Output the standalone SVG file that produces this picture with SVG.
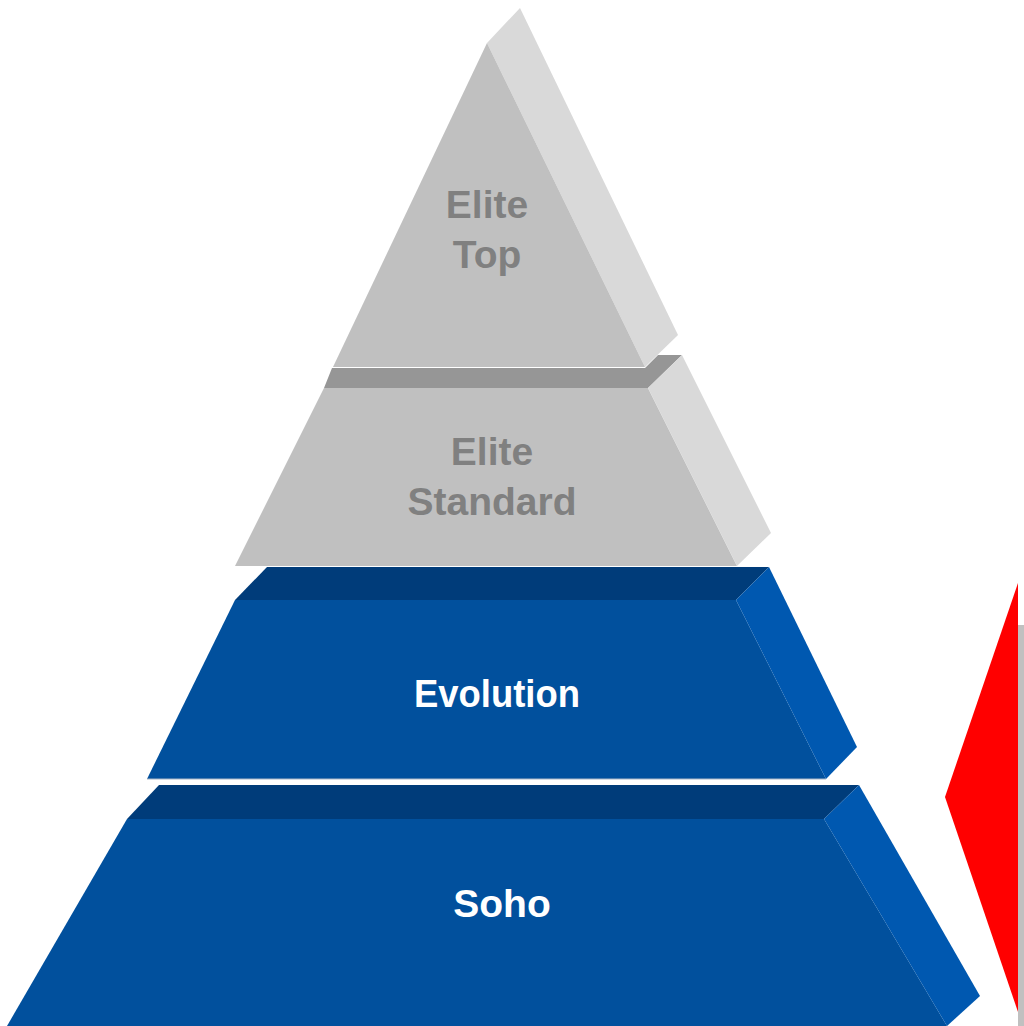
<svg xmlns="http://www.w3.org/2000/svg" width="1024" height="1026" viewBox="0 0 1024 1026">
<style>
.gf{fill:#c0c0c0}
.gs{fill:#d9d9d9}
.gt{fill:#969696}
.bf{fill:#01509d}
.bs{fill:#0058b0}
.bt{fill:#003c7a}
.edge{stroke:#a8b4c4;stroke-width:1}
.lg{font-family:"Liberation Sans",Arial,sans-serif;font-weight:bold;font-size:39px;fill:#808080;text-anchor:middle}
.lw{font-family:"Liberation Sans",Arial,sans-serif;font-weight:bold;font-size:39px;fill:#ffffff;text-anchor:middle}
</style>
<rect width="1024" height="1026" fill="#ffffff"/>
<g id="accent">
<rect x="1018" y="625" width="6" height="401" fill="#c0c0c0"/>
<polygon points="1018,583 945,797 1018,1012" fill="#ff0000"/>
</g>
<g id="soho">
<polygon class="bt" points="127,819 159,785 859,785 824,819"/>
<polygon class="bf" points="127,819 824,819 947,1026 7,1026"/>
<polygon class="bs" points="824,819 859,785 980,996 947,1026"/>
<text class="lw" x="502" y="917">Soho</text>
</g>
<g id="evolution">
<polygon class="bt" points="235,600 267,567 769,567 736,600"/>
<polygon class="bf" points="235,600 736,600 826,779 147,779"/>
<polygon class="bs" points="736,600 769,567 857,747 826,779"/>
<line class="edge" x1="147" y1="779" x2="826" y2="779"/>
<text class="lw" x="497" y="707" textLength="166" lengthAdjust="spacingAndGlyphs">Evolution</text>
</g>
<g id="elite-standard">
<polygon class="gt" points="324,388 332,368 645,368 658,355 682,355 648,388"/>
<polygon class="gf" points="324,388 648,388 737,566 235,566"/>
<polygon class="gs" points="648,388 682,355 771,533 737,566"/>
<text class="lg" x="492" y="465">Elite</text>
<text class="lg" x="492" y="515">Standard</text>
</g>
<g id="elite-top">
<polygon class="gs" points="487,43 520,8 678,335 645,367"/>
<polygon class="gf" points="487,43 645,367 333,367"/>
<text class="lg" x="487" y="218">Elite</text>
<text class="lg" x="487" y="268">Top</text>
</g>
<g id="connectors"/>
</svg>
